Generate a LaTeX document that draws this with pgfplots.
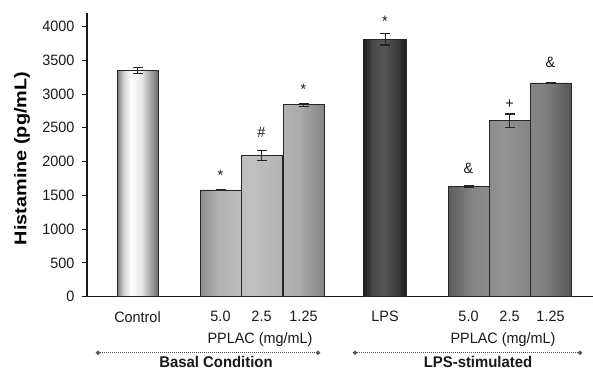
\documentclass[border=0pt]{standalone}
\usepackage{fontspec}
\setmainfont{Liberation Sans}[FakeStretch=0.96]
\newfontfamily\ylabfont{Liberation Sans}[FakeStretch=1.17]
\usepackage{pgfplots}
\pgfplotsset{compat=1.18}
\usetikzlibrary{shapes.geometric}

\definecolor{cA}{HTML}{777777}
\definecolor{cB}{HTML}{D0D0D0}
\definecolor{cC}{HTML}{FFFFFF}
\definecolor{cD}{HTML}{E6E6E6}
\definecolor{cE}{HTML}{6E6E6E}
\definecolor{bA}{HTML}{8A8A8A}
\definecolor{bB}{HTML}{B2B2B2}
\definecolor{bC}{HTML}{C0C0C0}
\definecolor{bD}{HTML}{ACACAC}
\definecolor{bE}{HTML}{848484}
\definecolor{lA}{HTML}{1C1C1C}
\definecolor{lB}{HTML}{484848}
\definecolor{lC}{HTML}{575757}
\definecolor{lD}{HTML}{3A3A3A}
\definecolor{lE}{HTML}{1A1A1A}
\definecolor{sA}{HTML}{5C5C5C}
\definecolor{sB}{HTML}{868686}
\definecolor{sC}{HTML}{929292}
\definecolor{sD}{HTML}{7E7E7E}
\definecolor{sE}{HTML}{565656}

\pgfdeclarehorizontalshading{ctrlshade}{100bp}{color(0bp)=(cA); color(25bp)=(cA); color(33bp)=(cB); color(42bp)=(cC); color(55bp)=(cD); color(75bp)=(cE); color(100bp)=(cE)}
\pgfdeclarehorizontalshading{basalshade}{100bp}{color(0bp)=(bA); color(25bp)=(bA); color(32bp)=(bB); color(45bp)=(bC); color(65bp)=(bD); color(75bp)=(bE); color(100bp)=(bE)}
\pgfdeclarehorizontalshading{lpsshade}{100bp}{color(0bp)=(lA); color(25bp)=(lA); color(35bp)=(lB); color(48bp)=(lC); color(65bp)=(lD); color(75bp)=(lE); color(100bp)=(lE)}
\pgfdeclarehorizontalshading{stimshade}{100bp}{color(0bp)=(sA); color(25bp)=(sA); color(35bp)=(sB); color(48bp)=(sC); color(65bp)=(sD); color(75bp)=(sE); color(100bp)=(sE)}

\begin{document}
\begin{tikzpicture}
\useasboundingbox (-87pt,-73.3pt) rectangle (506pt,296.7pt);
\begin{axis}[
  at={(0pt,0pt)}, anchor=south west,
  scale only axis,
  width=506pt, height=283.7pt,
  xmin=87, xmax=593,
  ymin=0, ymax=4200,
  axis x line*=bottom,
  axis y line*=left,
  axis line style={line width=1.1pt, black!90},
  xtick={137.5,220.5,261.5,303.5,385,468.5,509.5,550.5},
  xticklabels={Control,5.0,2.5,1.25,LPS,5.0,2.5,1.25},
  major x tick style={draw=none},
  ytick={0,500,1000,1500,2000,2500,3000,3500,4000},
  yticklabels={0,500,1000,1500,2000,2500,3000,3500,4000},
  tick align=outside,
  major tick length=5pt,
  major y tick style={line width=1pt, black!90},
  tick label style={font=\fontsize{15}{17}\selectfont, text=black!90},
  xticklabel style={yshift=-6pt},
  yticklabel style={xshift=-4pt},
  ylabel={Histamine (pg/mL)},
  ylabel style={at={(axis description cs:-0.1285,0.487)}, anchor=center, font=\fontsize{17}{19}\selectfont\ylabfont\bfseries},
  clip=false,
]
\addplot[ybar, bar width=41, bar shift=0pt, draw=black!85, line width=0.8pt, shade, shading=ctrlshade]
  coordinates {(137.5,3350)};
\addplot[ybar, bar width=41, bar shift=0pt, draw=black!85, line width=0.8pt, shade, shading=basalshade]
  coordinates {(220.5,1580) (261.5,2090) (303.5,2840)};
\addplot[ybar, bar width=43, bar shift=0pt, draw=black!85, line width=0.8pt, shade, shading=lpsshade]
  coordinates {(385,3810)};
\addplot[ybar, bar width=41, bar shift=0pt, draw=black!85, line width=0.8pt, shade, shading=stimshade]
  coordinates {(468.5,1630) (509.5,2605) (550.5,3165)};
\addplot[draw=none, forget plot,
  error bars/.cd, y dir=both, y explicit,
  error bar style={draw=black!85, line width=1pt},
  error mark options={rotate=90, draw=black!85, line width=1.2pt, mark size=5pt}]
  coordinates {
  (137.5,3350) +- (0,40)
  (220.5,1580) +- (0,10)
  (261.5,2090) +- (0,70)
  (303.5,2840) +- (0,25)
  (385,3810) +- (0,85)
  (468.5,1630) +- (0,10)
  (509.5,2605) +- (0,100)
  (550.5,3165) +- (0,12)
  };
\begin{scope}[every node/.style={font=\fontsize{15}{17}\selectfont, text=black!90}]
\node at (axis cs:220.5,1800) {*};
\node at (axis cs:261.5,2436) {\#};
\node at (axis cs:303.5,3072) {*};
\node at (axis cs:385,4078) {*};
\node at (axis cs:468.5,1904) {\&};
\node at (axis cs:509.5,2850) {+};
\node at (axis cs:550.5,3472) {\&};
\end{scope}
\end{axis}
% group annotations below the axis (x in pt = pixel - 87, y in pt = 296.7 - pixel)
\node[font=\fontsize{15}{17}\selectfont, text=black!90] at (173pt,-43.3pt) {PPLAC (mg/mL)};
\node[font=\fontsize{15}{17}\selectfont, text=black!90] at (416pt,-43.3pt) {PPLAC (mg/mL)};
\draw[black!70, line width=0.8pt, dash pattern=on 0.8pt off 1.2pt] (11pt,-56pt) -- (231pt,-56pt);
\draw[black!70, line width=0.8pt, dash pattern=on 0.8pt off 1.2pt] (268pt,-56pt) -- (493pt,-56pt);
\foreach \xx in {11,231,268,493}
  \node[diamond, fill=black!65, inner sep=0pt, minimum size=5pt] at (\xx pt,-56pt) {};
\node[inner sep=0pt, font=\fontsize{15.5}{17}\selectfont\bfseries, text=black!90] at (129pt,-65pt) {Basal Condition};
\node[inner sep=0pt, font=\fontsize{15.5}{17}\selectfont\bfseries, text=black!90] at (391pt,-65pt) {LPS-stimulated};
\end{tikzpicture}
\end{document}
